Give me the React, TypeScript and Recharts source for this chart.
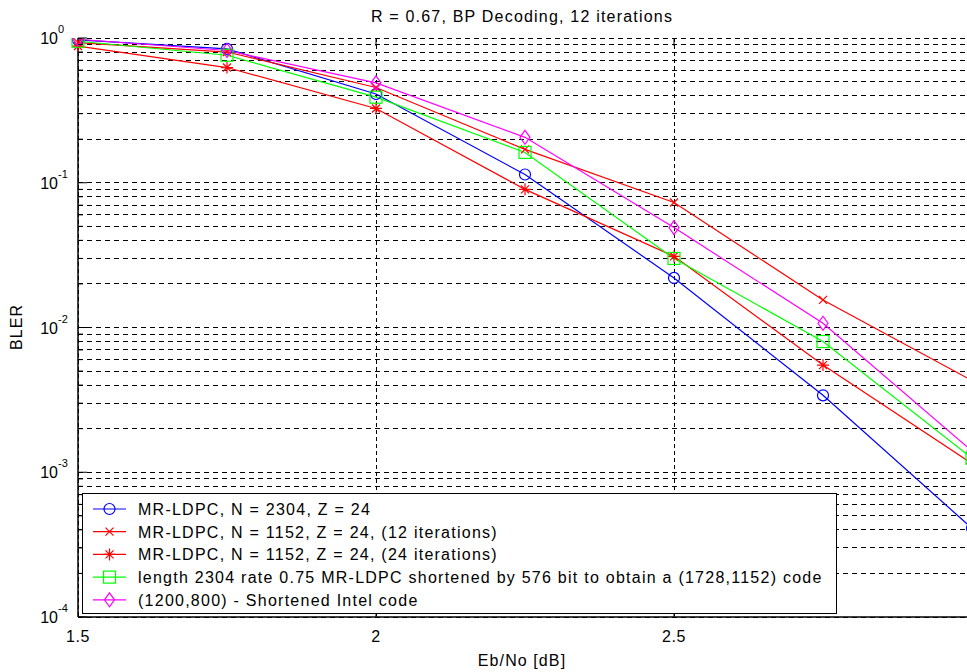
import React from 'react';
import { LineChart, Line, XAxis, YAxis, CartesianGrid, Legend } from 'recharts';

// Eb/No points and BLER
const ebNo = [1.5, 1.75, 2, 2.25, 2.5, 2.75, 3];
const bler2304 = [0.97, 0.84, 0.41, 0.114, 0.022, 0.0034, 0.00041];
const bler1152it12 = [0.93, 0.8, 0.455, 0.17, 0.073, 0.0155, 0.0043];
const bler1152it24 = [0.88, 0.625, 0.326, 0.09, 0.031, 0.0055, 0.00115];
const blerShort1728 = [0.95, 0.76, 0.39, 0.162, 0.03, 0.008, 0.00125];
const blerIntel = [0.98, 0.82, 0.49, 0.206, 0.049, 0.0107, 0.0014];

const xTicks = [1.5, 2, 2.5, 3];
const decades = [-4, -3, -2, -1, 0];
const minorSteps = [2, 3, 4, 5, 6, 7, 8, 9];

const yTicks: number[] = [];
decades.forEach((d) => {
  yTicks.push(Math.pow(10, d));
  if (d < 0) minorSteps.forEach((m) => yTicks.push(m * Math.pow(10, d)));
});

const series = [
  { key: 'n2304', name: 'MR-LDPC, N = 2304, Z = 24', color: '#0000ff', marker: 'circle', values: bler2304 },
  { key: 'n1152a', name: 'MR-LDPC, N = 1152, Z = 24, (12 iterations)', color: '#ff0000', marker: 'x', values: bler1152it12 },
  { key: 'n1152b', name: 'MR-LDPC, N = 1152, Z = 24, (24 iterations)', color: '#ff0000', marker: 'star', values: bler1152it24 },
  { key: 'short', name: 'length 2304 rate 0.75 MR-LDPC shortened by 576 bit to obtain a (1728,1152) code', color: '#00ff00', marker: 'square', values: blerShort1728 },
  { key: 'intel', name: '(1200,800) - Shortened Intel code', color: '#ff00ff', marker: 'diamond', values: blerIntel },
];

const data = ebNo.map((x, i) => {
  const row: any = { x };
  series.forEach((s) => (row[s.key] = s.values[i]));
  return row;
});

const FONT = '"Liberation Sans", Arial, sans-serif';
const PLOT_TOP = 38;

function Marker({ kind, cx, cy, color }: { kind: string; cx: number; cy: number; color: string }) {
  const sw = 1.2;
  if (kind === 'circle') return <circle cx={cx} cy={cy} r={5.5} fill="none" stroke={color} strokeWidth={sw} />;
  if (kind === 'x')
    return <path d={`M${cx - 4},${cy - 4}L${cx + 4},${cy + 4}M${cx - 4},${cy + 4}L${cx + 4},${cy - 4}`} stroke={color} strokeWidth={sw} />;
  if (kind === 'star')
    return (
      <path
        d={`M${cx - 6},${cy}L${cx + 6},${cy}M${cx},${cy - 6}L${cx},${cy + 6}M${cx - 4},${cy - 4}L${cx + 4},${cy + 4}M${cx - 4},${cy + 4}L${cx + 4},${cy - 4}`}
        stroke={color}
        strokeWidth={sw}
      />
    );
  if (kind === 'square') return <rect x={cx - 6} y={cy - 6} width={12} height={12} fill="none" stroke={color} strokeWidth={sw} />;
  return <path d={`M${cx},${cy - 7}L${cx + 5},${cy}L${cx},${cy + 7}L${cx - 5},${cy}Z`} fill="none" stroke={color} strokeWidth={sw} />;
}

const XTick = (p: any) => {
  const v = p.payload.value;
  const inner = v > 1.5 && v < 3;
  return (
    <g>
      {inner && <line x1={p.x} x2={p.x} y1={p.y} y2={p.y - 8} stroke="#000" />}
      {inner && <line x1={p.x} x2={p.x} y1={PLOT_TOP} y2={PLOT_TOP + 8} stroke="#000" />}
      {v < 3 && (
        <text x={p.x} y={p.y + 25} textAnchor="middle" fontFamily={FONT} fontSize={16} letterSpacing={0.6} fill="#000">
          {v}
        </text>
      )}
    </g>
  );
};

const YTick = (p: any) => {
  const v = p.payload.value;
  const e = Math.round(Math.log10(v));
  const major = Math.abs(Math.log10(v) - e) < 1e-6;
  return (
    <g>
      <line x1={p.x} x2={p.x + (major ? 9 : 5)} y1={p.y} y2={p.y} stroke="#000" />
      {major && (
        <>
          <text x={p.x - 20} y={p.y + 6} textAnchor="end" fontFamily={FONT} fontSize={16} fill="#000">
            10
          </text>
          <text x={p.x - 20} y={p.y - 5} textAnchor="start" fontFamily={FONT} fontSize={11} fill="#000">
            {e === 0 ? '0' : `-${-e}`}
          </text>
        </>
      )}
    </g>
  );
};

const LegendBox = () => (
  <svg width={755} height={121} style={{ display: 'block' }}>
    {series.map((s, i) => {
      const y = 15 + i * 22.7;
      return (
        <g key={s.key}>
          <line x1={10} x2={43} y1={y} y2={y} stroke={s.color} strokeWidth={1.2} />
          <Marker kind={s.marker} cx={26.5} cy={y} color={s.color} />
          <text x={55} y={y + 6} fontFamily={FONT} fontSize={16} letterSpacing={1.25} fill="#000">
            {s.name}
          </text>
        </g>
      );
    })}
  </svg>
);

export default function App() {
  return (
    <div style={{ position: 'absolute', left: 0, top: 0, width: 967, height: 672, overflow: 'hidden', background: '#fff' }}>
      <LineChart width={972} height={672} data={data} margin={{ top: PLOT_TOP, right: 0, bottom: 0, left: 0 }}>
        <CartesianGrid horizontal={false} stroke="#000" strokeDasharray="4 3" shapeRendering="crispEdges" />
        <CartesianGrid vertical={false} stroke="#000" strokeDasharray="5 4" shapeRendering="crispEdges" />
        <XAxis
          dataKey="x"
          type="number"
          domain={[1.5, 3]}
          ticks={xTicks}
          interval={0}
          height={55}
          tickSize={0}
          tickMargin={0}
          tickLine={false}
          tick={XTick}
          axisLine={{ stroke: '#000', strokeWidth: 1.5 }}
        />
        <YAxis
          type="number"
          scale="log"
          domain={[0.0001, 1]}
          allowDataOverflow
          ticks={yTicks}
          interval={0}
          width={78}
          tickSize={0}
          tickMargin={0}
          tickLine={false}
          tick={YTick}
          axisLine={{ stroke: '#000', strokeWidth: 1.5 }}
        />
        <XAxis
          xAxisId="top"
          orientation="top"
          dataKey="x"
          type="number"
          domain={[1.5, 3]}
          height={0}
          tick={false}
          tickLine={false}
          axisLine={{ stroke: '#333', strokeWidth: 2 }}
        />
        {series.map((s) => (
          <Line
            key={s.key}
            type="linear"
            dataKey={s.key}
            name={s.name}
            stroke={s.color}
            strokeWidth={1.2}
            isAnimationActive={false}
            activeDot={false}
            dot={(p: any) => <Marker key={`${s.key}-${p.index}`} kind={s.marker} cx={p.cx} cy={p.cy} color={s.color} />}
          />
        ))}
        <Legend
          layout="vertical"
          align="center"
          verticalAlign="middle"
          content={LegendBox}
          wrapperStyle={{
            left: 82,
            top: 493,
            width: 755,
            height: 121,
            border: '1px solid #000',
            background: '#fff',
            boxSizing: 'border-box',
          }}
        />
      </LineChart>
      <svg width={967} height={672} style={{ position: 'absolute', left: 0, top: 0, pointerEvents: 'none' }}>
        <text x={522} y={22} textAnchor="middle" fontFamily={FONT} fontSize={16} letterSpacing={1.2} fill="#000">
          R = 0.67, BP Decoding, 12 iterations
        </text>
        <text x={522} y={666} textAnchor="middle" fontFamily={FONT} fontSize={16} letterSpacing={1.1} fill="#000">
          Eb/No [dB]
        </text>
        <text
          x={0}
          y={0}
          transform="translate(22 327) rotate(-90)"
          textAnchor="middle"
          fontFamily={FONT}
          fontSize={16}
          letterSpacing={1.1}
          fill="#000"
        >
          BLER
        </text>
      </svg>
    </div>
  );
}
